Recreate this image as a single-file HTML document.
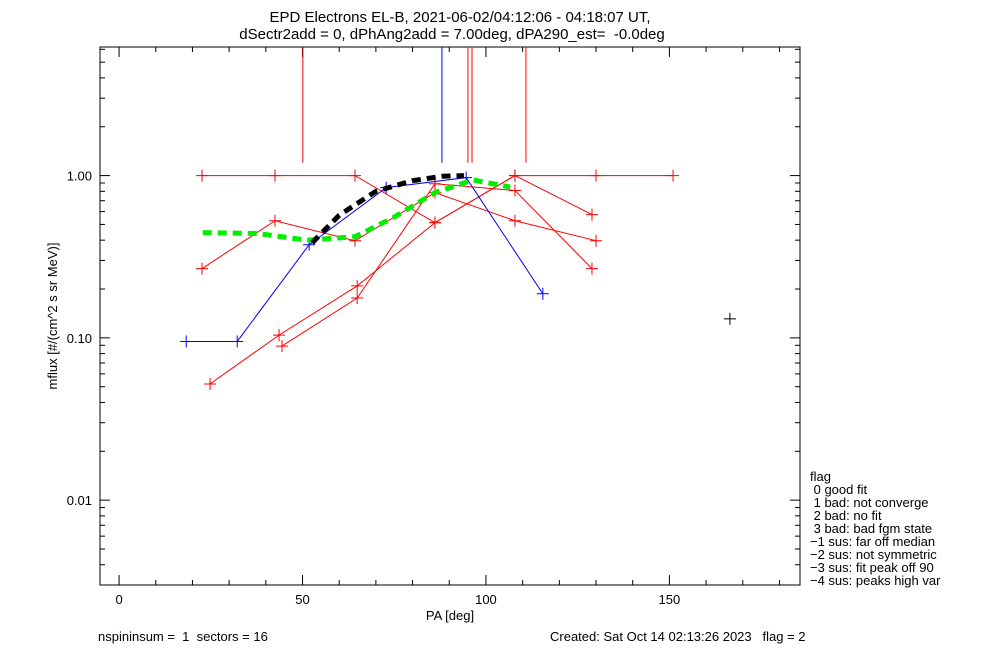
<!DOCTYPE html>
<html><head><meta charset="utf-8"><style>
html,body{margin:0;padding:0;background:#fff;}
svg{display:block;font-family:"Liberation Sans",sans-serif;}
text{white-space:pre;}
</style></head><body>
<svg id="chart" width="1000" height="650" viewBox="0 0 1000 650">
<text x="460" y="22" font-size="15" text-anchor="middle">EPD Electrons EL-B, 2021-06-02/04:12:06 - 04:18:07 UT,</text>
<text x="452" y="39" font-size="15" text-anchor="middle">dSectr2add = 0, dPhAng2add = 7.00deg, dPA290_est=  -0.0deg</text>
<text transform="translate(57,316) rotate(-90)" font-size="13" text-anchor="middle">mflux [#/(cm^2 s sr MeV)]</text>
<text x="450" y="620" font-size="13" text-anchor="middle">PA [deg]</text>
<text x="98" y="641" font-size="13">nspininsum =  1  sectors = 16</text>
<text x="550" y="641" font-size="13">Created: Sat Oct 14 02:13:26 2023   flag = 2</text>
<g id="legend" font-size="13"></g>
<g id="axes"></g>
<g id="marks"></g>
</svg>
<script>
const legendLines=["flag"," 0 good fit"," 1 bad: not converge"," 2 bad: no fit"," 3 bad: bad fgm state","\u22121 sus: far off median","\u22122 sus: not symmetric","\u22123 sus: fit peak off 90","\u22124 sus: peaks high var"];
const xTicks=[0,50,100,150];
const yTicks=[0.01,0.1,1];
const yTickLabels=["0.01","0.10","1.00"];
const red1X=[22.6,42.5,64.3,86.1,107.9,130.0,151.0];
const red1Y=[1,1,1,0.513,1,1,1];
const red2X=[22.6,42.5,64.3,86.1,107.9,130.0];
const red2Y=[0.267,0.527,0.397,0.785,0.527,0.397];
const red3X=[24.8,43.6,64.9,86.1,107.9,128.9];
const red3Y=[0.052,0.104,0.209,0.513,1,0.575];
const red4X=[44.4,64.9,86.1,107.9,128.9];
const red4Y=[0.089,0.176,0.89,0.81,0.267];
const blueX=[18.3,32.2,51.8,72.8,94.6,115.5];
const blueY=[0.095,0.095,0.375,0.843,0.972,0.187];
const fitBlackX=[52.6,60,70,80,88,94];
const fitBlackY=[0.385,0.57,0.8,0.93,0.99,1.0];
const fitGreenX=[22.8,37.6,51.2,64.3,74.7,86.1,96.5,106.6];
const fitGreenY=[0.445,0.44,0.40,0.42,0.55,0.785,0.94,0.85];
const redVert=[50.1,95.1,96.2,110.9];
const blueVert=[88.0];
const loneX=[166.5];const loneY=[0.131];

const L=100,R=800,T=47,B=585;
const X0=-5.2,X1=185.6;
const LY0=Math.log10(0.003),LY1=Math.log10(6.2);
function sx(v){return L+(v-X0)/(X1-X0)*(R-L);}
function sy(v){return B-(Math.log10(v)-LY0)/(LY1-LY0)*(B-T);}
const NS="http://www.w3.org/2000/svg";
function mk(tag,attrs,parent){const e=document.createElementNS(NS,tag);for(const k in attrs)e.setAttribute(k,attrs[k]);parent.appendChild(e);return e;}
const axes=document.getElementById('axes'),marks=document.getElementById('marks'),leg=document.getElementById('legend');
legendLines.forEach((t,i)=>{const e=mk('text',{x:810,y:481+i*13},leg);e.textContent=t;

});
const frame=mk('rect',{x:L,y:T,width:R-L,height:B-T,fill:'none',stroke:'#000','stroke-width':1},axes);


for(let v=0;v<=180;v+=10){const px=sx(v);const len=(v%50===0)?10:5;
mk('line',{x1:px,y1:B,x2:px,y2:B-len,stroke:'#000'},axes);mk('line',{x1:px,y1:T,x2:px,y2:T+len,stroke:'#000'},axes);}
xTicks.forEach(v=>{const e=mk('text',{x:sx(v),y:B+19,'font-size':13,'text-anchor':'middle'},axes);e.textContent=v;

});
for(let d=-3;d<=0;d++){for(let m=1;m<=9;m++){const v=m*Math.pow(10,d);if(v<0.003||v>6.2)continue;const py=sy(v);const len=m===1?10:5;
mk('line',{x1:L,y1:py,x2:L+len,y2:py,stroke:'#000'},axes);mk('line',{x1:R,y1:py,x2:R-len,y2:py,stroke:'#000'},axes);}}
yTicks.forEach((v,i)=>{const e=mk('text',{x:L-8,y:sy(v)+5,'font-size':13,'text-anchor':'end'},axes);e.textContent=yTickLabels[i];

});
function series(xs,ys,color,name){const g=mk('g',{},marks);


mk('polyline',{points:xs.map((x,i)=>sx(x)+','+sy(ys[i])).join(' '),fill:'none',stroke:color,'stroke-width':1},g);
xs.forEach((x,i)=>{const px=sx(x),py=sy(ys[i]);mk('path',{d:`M${px-6},${py}H${px+6}M${px},${py-6}V${py+6}`,stroke:color,'stroke-width':1},g);});}
series(red1X,red1Y,'#f00','red-series-1');
series(red2X,red2Y,'#f00','red-series-2');
series(red3X,red3Y,'#f00','red-series-3');
series(red4X,red4Y,'#f00','red-series-4');
series(blueX,blueY,'#00f','blue-series');
series(loneX,loneY,'#000','lone-point');
function fit(xs,ys,color,name){const p=mk('polyline',{points:xs.map((x,i)=>sx(x)+','+sy(ys[i])).join(' '),fill:'none',stroke:color,'stroke-width':5,'stroke-dasharray':'9,6'},marks);

}
fit(fitGreenX,fitGreenY,'#0e0','green-fit-curve');
fit(fitBlackX,fitBlackY,'#000','black-fit-curve');
function vert(xs,color,name){xs.forEach(x=>{const l=mk('line',{x1:sx(x),y1:T,x2:sx(x),y2:sy(1.2),stroke:color},marks);

});}
vert(redVert,'#f00','red-peak-marker');
vert(blueVert,'#00f','blue-peak-marker');
</script>
</body></html>
